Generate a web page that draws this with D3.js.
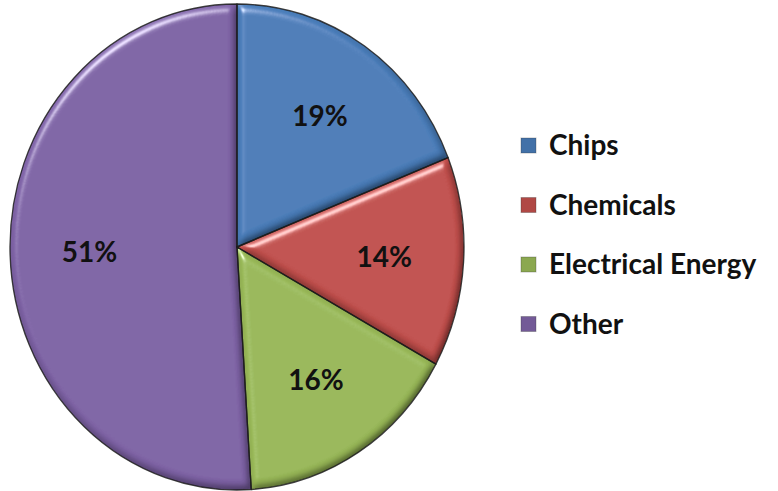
<!DOCTYPE html>
<html>
<head>
<meta charset="utf-8">
<script src="https://d3js.org/d3.v7.min.js"></script>
<style>
  body { margin: 0; background: #fff; }
  svg { display: block; }
</style>
</head>
<body>
<div id="chart"></div>
<script>
// data
var categories = ["Chips", "Chemicals", "Electrical Energy", "Other"];
var shares = [19, 14, 16, 51];
var sliceColors = ["#4a7ebb", "#c4504d", "#9bbb59", "#8064a8"];

var svgWidth = 778;
var svgHeight = 491;

var cx = 237, cy = 247;
var ry = 243, rx = 227;
var sx = rx / ry;

var svg = d3.select("#chart")
  .append("svg")
  .attr("width", svgWidth)
  .attr("height", svgHeight);

// bevel look, like the office 3d pie
var defs = svg.append("defs");
var bevel = defs.append("filter")
  .attr("id", "bevel")
  .attr("x", "-5%").attr("y", "-5%")
  .attr("width", "110%").attr("height", "110%");
bevel.append("feGaussianBlur")
  .attr("in", "SourceAlpha")
  .attr("stdDeviation", 4)
  .attr("result", "blur");
bevel.append("feDiffuseLighting")
  .attr("in", "blur")
  .attr("surfaceScale", 5)
  .attr("diffuseConstant", 1)
  .attr("lighting-color", "#fff")
  .attr("result", "diff")
  .append("feDistantLight")
  .attr("azimuth", 235)
  .attr("elevation", 60);
bevel.append("feComposite")
  .attr("in", "SourceGraphic")
  .attr("in2", "diff")
  .attr("operator", "arithmetic")
  .attr("k1", 1.1).attr("k2", 0).attr("k3", 0).attr("k4", 0)
  .attr("result", "lit");
bevel.append("feSpecularLighting")
  .attr("in", "blur")
  .attr("surfaceScale", 5)
  .attr("specularConstant", 0.6)
  .attr("specularExponent", 45)
  .attr("lighting-color", "#fff")
  .attr("result", "spec")
  .append("feDistantLight")
  .attr("azimuth", 235)
  .attr("elevation", 45);
bevel.append("feComposite")
  .attr("in", "spec")
  .attr("in2", "SourceAlpha")
  .attr("operator", "in")
  .attr("result", "specIn");
bevel.append("feComposite")
  .attr("in", "lit")
  .attr("in2", "specIn")
  .attr("operator", "arithmetic")
  .attr("k1", 0).attr("k2", 1).attr("k3", 1).attr("k4", 0)
  .attr("result", "out");
bevel.append("feComposite")
  .attr("in", "out")
  .attr("in2", "SourceAlpha")
  .attr("operator", "in");

var pie = d3.pie()
  .sort(null)
  .value(function(d) { return d; });

var arc = d3.arc()
  .innerRadius(0)
  .outerRadius(ry);

var labelArc = d3.arc()
  .innerRadius(158)
  .outerRadius(158);

var slices = pie(shares);

var pieGroup = svg.append("g")
  .attr("transform", `translate(${cx}, ${cy}) scale(${sx}, 1)`);

pieGroup.selectAll("path")
  .data(slices)
  .enter()
  .append("path")
  .attr("d", arc)
  .attr("fill", function(d, i) { return sliceColors[i]; })
  .attr("filter", "url(#bevel)");

pieGroup.selectAll("path.edge")
  .data(slices)
  .enter()
  .append("path")
  .attr("class", "edge")
  .attr("d", arc)
  .attr("fill", "none")
  .attr("stroke", "#1a1a1a")
  .attr("stroke-width", 1.4)
  .attr("stroke-opacity", 0.85)
  .attr("stroke-linejoin", "round");

// percent labels
svg.append("g")
  .attr("transform", `translate(${cx}, ${cy})`)
  .selectAll("text")
  .data(slices)
  .enter()
  .append("text")
  .attr("x", function(d) { return labelArc.centroid(d)[0] * sx; })
  .attr("y", function(d) { return labelArc.centroid(d)[1]; })
  .attr("dy", "0.36em")
  .attr("text-anchor", "middle")
  .attr("font-family", "Lato, 'Open Sans', sans-serif")
  .attr("font-size", "28px")
  .attr("font-weight", 700)
  .attr("fill", "#111")
  .text(function(d) { return d.data + "%"; });

// legend
var legend = svg.append("g")
  .attr("transform", "translate(521, 145)");

var rows = legend.selectAll("g")
  .data(categories)
  .enter()
  .append("g")
  .attr("transform", function(d, i) { return `translate(0, ${i * 59.5})`; });

rows.append("rect")
  .attr("x", 0)
  .attr("y", -7)
  .attr("width", 15)
  .attr("height", 15)
  .attr("fill", function(d, i) { return d3.color(sliceColors[i]).darker(0.3); })
  .attr("stroke", "#333")
  .attr("stroke-opacity", 0.3);

rows.append("text")
  .attr("x", 28)
  .attr("y", 0)
  .attr("dy", "0.36em")
  .attr("font-family", "Lato, 'Open Sans', sans-serif")
  .attr("font-size", "28px")
  .attr("font-weight", 700)
  .attr("fill", "#111")
  .text(function(d) { return d; });
</script>
</body>
</html>
